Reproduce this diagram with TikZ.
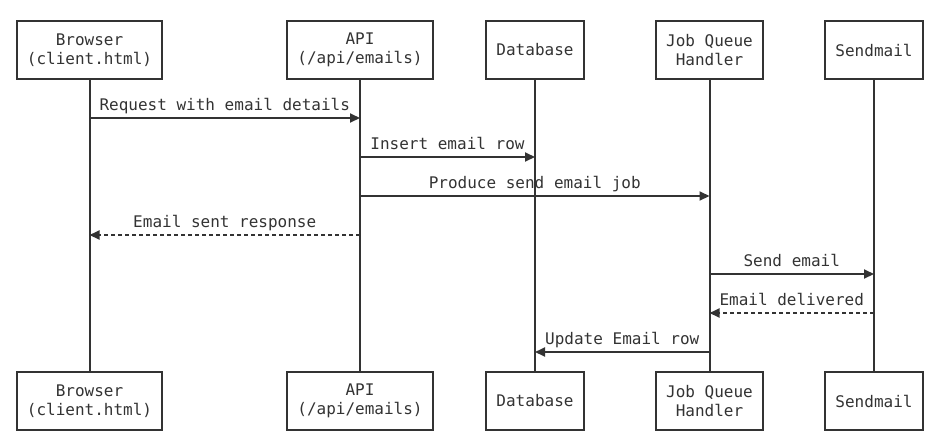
\documentclass[tikz,border=0pt]{standalone}
\usepackage{fontspec}
\setmonofont{DejaVu Sans Mono}
\usetikzlibrary{arrows.meta,calc}
\definecolor{ink}{HTML}{333333}
\begin{document}
\begin{tikzpicture}[x=1pt,y=-1pt,
  actor/.style={draw=ink,line width=2pt,fill=white,minimum height=58pt,inner sep=0pt,align=center,font=\ttfamily\fontsize{16}{19}\selectfont,text=ink},
  life/.style={draw=ink,line width=2pt},
  msg/.style={draw=ink,line width=2pt,-{Triangle[length=10pt,width=9pt]}},
  reply/.style={msg,dash pattern=on 4pt off 3pt},
  lbl/.style={font=\ttfamily\fontsize{16}{19}\selectfont,text=ink,anchor=base,inner sep=0pt,yshift=8pt}]
\useasboundingbox (0,0) rectangle (941,447);
% top actors
\node[actor,minimum width=145pt] (brT) at (89.5,50) {Browser\\(client.html)};
\node[actor,minimum width=146pt] (apiT) at (360,50) {API\\(/api/emails)};
\node[actor,minimum width=98pt] (dbT) at (535,50) {Database};
\node[actor,minimum width=107pt] (jqT) at (709.5,50) {Job Queue\\Handler};
\node[actor,minimum width=98pt] (smT) at (874,50) {Sendmail};
% bottom actors
\node[actor,minimum width=145pt] (brB) at (89.5,401) {Browser\\(client.html)};
\node[actor,minimum width=146pt] (apiB) at (360,401) {API\\(/api/emails)};
\node[actor,minimum width=98pt] (dbB) at (535,401) {Database};
\node[actor,minimum width=107pt] (jqB) at (709.5,401) {Job Queue\\Handler};
\node[actor,minimum width=98pt] (smB) at (874,401) {Sendmail};
% lifelines
\draw[life] (brT.south) -- (brB.north);
\draw[life] (apiT.south) -- (apiB.north);
\draw[life] (dbT.south) -- (dbB.north);
\draw[life] (jqT.south) -- (jqB.north);
\draw[life] (smT.south) -- (smB.north);
% message rows
\coordinate (m1) at (0,118);
\coordinate (m2) at (0,157);
\coordinate (m3) at (0,196);
\coordinate (m4) at (0,235);
\coordinate (m5) at (0,274);
\coordinate (m6) at (0,313);
\coordinate (m7) at (0,352);
\draw[msg] (brT |- m1) -- node[lbl]{Request with email details} (apiT |- m1);
\draw[msg] (apiT |- m2) -- node[lbl]{Insert email row} (dbT |- m2);
\draw[msg] (apiT |- m3) -- node[lbl]{Produce send email job} (jqT |- m3);
\draw[reply] (apiT |- m4) -- node[lbl]{Email sent response} (brT |- m4);
\draw[msg] (jqT |- m5) -- node[lbl]{Send email} (smT |- m5);
\draw[reply] (smT |- m6) -- node[lbl]{Email delivered} (jqT |- m6);
\draw[msg] (jqT |- m7) -- node[lbl]{Update Email row} (dbT |- m7);
\end{tikzpicture}
\end{document}
